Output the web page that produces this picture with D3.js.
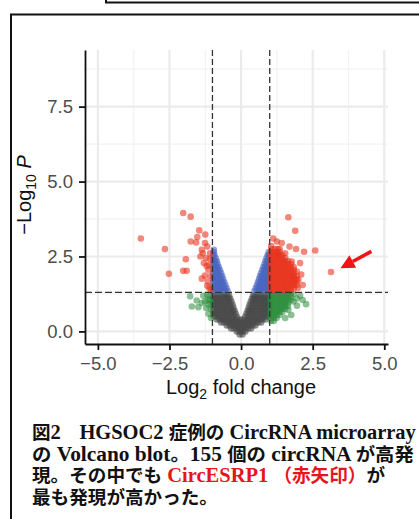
<!DOCTYPE html>
<html>
<head>
<meta charset="utf-8">
<script src="https://cdn.jsdelivr.net/npm/d3@7"></script>
<style>
  html, body { margin: 0; padding: 0; background: #fff; }
  svg { display: block; }
</style>
</head>
<body>
<svg id="chart" width="419" height="519"></svg>
<script>
// axis ticks
const xTicks = [-5, -2.5, 0, 2.5, 5];
const xTickLabels = ["\u22125.0", "\u22122.5", "0.0", "2.5", "5.0"];
const yTicks = [0, 2.5, 5, 7.5];
const yTickLabels = ["0.0", "2.5", "5.0", "7.5"];
const xMinor = [-3.75, -1.25, 1.25, 3.75];
const yMinor = [1.25, 3.75, 6.25, 8.75];

// cut-offs (log2FC = +-1, p = 0.05)
const fcCutoffs = [-1, 1];
const pCutoff = 1.3;

// not significant (grey), rows of points read off the cloud
const grayRows = [
  { y: -0.1, x: [-0.05, 0.05] },
  { y: 0.0, x: [-0.15, -0.05, 0.05, 0.15] },
  { y: 0.1, x: [-0.35, -0.25, -0.15, -0.05, 0.05, 0.15, 0.25, 0.35] },
  { y: 0.2, x: [-0.5, -0.4, -0.3, -0.2, -0.1, 0, 0.1, 0.2, 0.3, 0.4, 0.5] },
  { y: 0.3, x: [-0.7, -0.6, -0.5, -0.4, -0.3, -0.2, -0.1, 0, 0.1, 0.2, 0.3, 0.4, 0.5, 0.6, 0.7] },
  { y: 0.4, x: [-0.85, -0.75, -0.65, -0.55, -0.45, -0.35, -0.25, -0.15, -0.05, 0.05, 0.15, 0.25, 0.35, 0.45, 0.55, 0.65, 0.75, 0.85] },
  { y: 0.5, x: [-0.96, -0.86, -0.76, -0.66, -0.56, -0.46, -0.36, -0.26, -0.15, 0.15, 0.26, 0.36, 0.46, 0.56, 0.66, 0.76, 0.86, 0.96] },
  { y: 0.6, x: [-0.97, -0.88, -0.78, -0.68, -0.58, -0.48, -0.38, -0.28, -0.19, 0.19, 0.28, 0.38, 0.48, 0.58, 0.68, 0.78, 0.88, 0.97] },
  { y: 0.7, x: [-0.97, -0.87, -0.77, -0.67, -0.57, -0.47, -0.37, -0.3, -0.23, 0.23, 0.3, 0.37, 0.47, 0.57, 0.67, 0.77, 0.87, 0.97] },
  { y: 0.8, x: [-0.97, -0.87, -0.77, -0.67, -0.57, -0.47, -0.37, -0.27, 0.27, 0.37, 0.47, 0.57, 0.67, 0.77, 0.87, 0.97] },
  { y: 0.9, x: [-0.97, -0.88, -0.79, -0.7, -0.6, -0.5, -0.4, -0.3, 0.3, 0.4, 0.5, 0.6, 0.7, 0.79, 0.88, 0.97] },
  { y: 1.0, x: [-0.97, -0.88, -0.79, -0.7, -0.61, -0.52, -0.43, -0.34, 0.34, 0.43, 0.52, 0.61, 0.7, 0.79, 0.88, 0.97] },
  { y: 1.1, x: [-0.97, -0.88, -0.79, -0.7, -0.61, -0.52, -0.45, -0.38, 0.38, 0.45, 0.52, 0.61, 0.7, 0.79, 0.88, 0.97] },
  { y: 1.2, x: [-0.97, -0.88, -0.79, -0.7, -0.62, -0.55, -0.48, -0.42, 0.42, 0.48, 0.55, 0.62, 0.7, 0.79, 0.88, 0.97] }
];

// p-value only (blue)
const blueRows = [
  { y: 1.35, x: [-0.97, -0.89, -0.81, -0.73, -0.65, -0.56, -0.47, 0.47, 0.56, 0.65, 0.73, 0.81, 0.89, 0.97] },
  { y: 1.45, x: [-0.97, -0.89, -0.81, -0.73, -0.65, -0.58, -0.51, 0.51, 0.58, 0.65, 0.73, 0.81, 0.89, 0.97] },
  { y: 1.55, x: [-0.97, -0.89, -0.81, -0.73, -0.64, -0.55, 0.55, 0.64, 0.73, 0.81, 0.89, 0.97] },
  { y: 1.65, x: [-0.97, -0.89, -0.81, -0.73, -0.66, -0.59, 0.59, 0.66, 0.73, 0.81, 0.89, 0.97] },
  { y: 1.75, x: [-0.97, -0.89, -0.8, -0.71, -0.63, 0.63, 0.71, 0.8, 0.89, 0.97] },
  { y: 1.85, x: [-0.97, -0.89, -0.81, -0.73, -0.66, 0.66, 0.73, 0.81, 0.89, 0.97] },
  { y: 1.95, x: [-0.97, -0.88, -0.79, -0.7, 0.7, 0.79, 0.88, 0.97] },
  { y: 2.05, x: [-0.97, -0.89, -0.81, -0.74, 0.74, 0.81, 0.89, 0.97] },
  { y: 2.15, x: [-0.97, -0.9, -0.84, -0.78, 0.78, 0.84, 0.9, 0.97] },
  { y: 2.25, x: [-0.97, -0.9, -0.82, 0.82, 0.9, 0.97] },
  { y: 2.35, x: [-0.97, -0.91, -0.85, 0.85, 0.91, 0.97] },
  { y: 2.45, x: [-0.97, -0.89, 0.89, 0.97] },
  { y: 2.55, x: [-0.97, -0.93, 0.93, 0.97] },
  { y: 2.65, x: [-0.96, 0.97] },
  { y: 2.72, x: [-0.95] }
];

// log2FC only (green)
const greenRows = [
  { y: 0.35, x: [1.04, 1.14] },
  { y: 0.45, x: [1.04, 1.14, 1.24] },
  { y: 0.55, x: [1.04, 1.14, 1.24, 1.34] },
  { y: 0.65, x: [1.04, 1.14, 1.24, 1.34, 1.44] },
  { y: 0.75, x: [1.04, 1.14, 1.24, 1.34, 1.44, 1.54] },
  { y: 0.85, x: [1.04, 1.14, 1.24, 1.34, 1.44, 1.54, 1.64] },
  { y: 0.95, x: [1.04, 1.14, 1.24, 1.34, 1.44, 1.54, 1.64] },
  { y: 1.05, x: [1.04, 1.14, 1.24, 1.34, 1.44, 1.54, 1.64, 1.74] },
  { y: 1.15, x: [1.04, 1.14, 1.24, 1.34, 1.44, 1.54, 1.64, 1.74] },
  { y: 1.25, x: [1.04, 1.14, 1.24, 1.34, 1.44, 1.54, 1.64, 1.74, 1.84] }
];
const greenPoints = [
  [-1.78, 1.17], [-1.55, 1.03], [-1.72, 0.83], [-1.49, 0.81], [-1.37, 0.95], [-1.26, 1.0],
  [-1.18, 1.22], [-1.32, 1.19], [-1.14, 0.89], [-1.14, 0.59], [-1.08, 1.06], [-1.06, 0.75],
  [-1.1, 1.18], [-1.05, 0.45], [-1.22, 0.78], [-1.06, 0.95], [-1.16, 1.05],
  [2.06, 1.19], [2.27, 0.91], [1.95, 0.86], [1.54, 0.45], [1.83, 1.0], [1.65, 0.72],
  [2.15, 1.05], [1.75, 0.55], [1.95, 1.1]
];

// log2FC and p-value (red)
const redRows = [
  { y: 1.35, x: [1.04, 1.14, 1.24, 1.34, 1.44, 1.54, 1.64, 1.74] },
  { y: 1.45, x: [1.04, 1.14, 1.24, 1.34, 1.44, 1.54, 1.64, 1.74, 1.84] },
  { y: 1.55, x: [1.04, 1.14, 1.24, 1.34, 1.44, 1.54, 1.64, 1.74, 1.84, 1.94] },
  { y: 1.65, x: [1.04, 1.14, 1.24, 1.34, 1.44, 1.54, 1.64, 1.74, 1.84, 1.94] },
  { y: 1.75, x: [1.04, 1.14, 1.24, 1.34, 1.44, 1.54, 1.64, 1.74, 1.84, 1.94] },
  { y: 1.85, x: [1.04, 1.14, 1.24, 1.34, 1.44, 1.54, 1.64, 1.74, 1.84, 1.94] },
  { y: 1.95, x: [1.04, 1.14, 1.24, 1.34, 1.44, 1.54, 1.64, 1.74, 1.84] },
  { y: 2.05, x: [1.04, 1.14, 1.24, 1.34, 1.44, 1.54, 1.64, 1.74, 1.84] },
  { y: 2.15, x: [1.04, 1.14, 1.24, 1.34, 1.44, 1.54, 1.64, 1.74, 1.84] },
  { y: 2.25, x: [1.04, 1.14, 1.24, 1.34, 1.44, 1.54, 1.64, 1.74] },
  { y: 2.35, x: [1.04, 1.14, 1.24, 1.34, 1.44, 1.54, 1.64] },
  { y: 2.45, x: [1.04, 1.14, 1.24, 1.34, 1.44, 1.54] },
  { y: 2.55, x: [1.04, 1.14, 1.24, 1.34, 1.44] },
  { y: 2.65, x: [1.04, 1.14, 1.24, 1.34] },
  { y: 2.75, x: [1.06, 1.18, 1.28] }
];
const redPoints = [
  [-2.02, 3.95], [-1.76, 3.83], [-3.5, 3.1], [-2.66, 2.75], [-1.46, 3.37], [-1.53, 3.15],
  [-1.25, 3.23], [-1.76, 3.0], [-1.57, 2.97], [-1.26, 2.95], [-1.37, 2.72], [-1.18, 2.83],
  [-1.08, 2.61], [-1.93, 2.41], [-1.34, 2.61], [-2.02, 2.02], [-1.9, 2.02], [-2.52, 1.92],
  [-1.37, 1.76], [-1.26, 1.86], [-1.14, 2.06], [-1.08, 2.42], [-1.18, 1.52], [-1.11, 1.45],
  [-1.3, 2.28], [-1.22, 2.45], [-1.12, 2.22], [-1.06, 1.85], [-1.16, 1.66], [-1.05, 1.38],
  [-1.2, 2.18], [-1.42, 2.5],
  [1.65, 3.81], [1.89, 3.36], [2.59, 2.7], [2.2, 2.66], [3.14, 1.98], [1.25, 3.0],
  [1.42, 2.95], [1.69, 2.83], [1.92, 2.75], [1.54, 2.61], [1.3, 2.56], [2.06, 2.28],
  [1.77, 2.33], [1.94, 2.0], [1.82, 1.83], [2.0, 1.72], [1.12, 3.1], [1.05, 2.85],
  [1.35, 2.75], [2.15, 1.55], [1.98, 1.45], [2.1, 1.9]
];

// arrow pointing at CircESRP1 (data units)
const arrowTail = [4.55, 2.67];
const arrowTip = [3.47, 2.11];

// caption: lat = latin run (serif), red = highlighted
const captionLines = [
  [{ t: "図" }, { t: "2", lat: true }, { t: "\u3000" }, { t: "HGSOC2 ", lat: true }, { t: "症例の" }, { t: " CircRNA microarray", lat: true }],
  [{ t: "の" }, { t: " Volcano blot", lat: true }, { t: "。" }, { t: "155 ", lat: true }, { t: "個の" }, { t: " circRNA ", lat: true }, { t: "が高発" }],
  [{ t: "現。その中でも" }, { t: " CircESRP1 ", lat: true, red: true }, { t: "（赤矢印）", red: true }, { t: "が" }],
  [{ t: "最も発現が高かった。" }]
];
const captionWidths = [384, 382, null, null];

const svg = d3.select("#chart");
const W = 419, H = 519;
svg.append("rect").attr("width", W).attr("height", H).attr("fill", "#fff");

// frames around the figure
svg.append("path").attr("d", "M106,-2V2.5H421").attr("fill", "none").attr("stroke", "#111").attr("stroke-width", 2);
svg.append("path").attr("d", "M11,521V14.5H421").attr("fill", "none").attr("stroke", "#111").attr("stroke-width", 2);

const panel = { left: 85, right: 388, top: 50, bottom: 344 };
const x = d3.scaleLinear().domain([-5.45, 5.13]).range([panel.left, panel.right]);
const y = d3.scaleLinear().domain([-0.42, 9.39]).range([panel.bottom, panel.top]);

const g = svg.append("g");

// grid
g.selectAll(".vminor").data(xMinor).join("line")
  .attr("x1", d => x(d)).attr("x2", d => x(d)).attr("y1", panel.top).attr("y2", panel.bottom)
  .attr("stroke", "#f2f2f2").attr("stroke-width", 1.2);
g.selectAll(".hminor").data(yMinor).join("line")
  .attr("y1", d => y(d)).attr("y2", d => y(d)).attr("x1", panel.left).attr("x2", panel.right)
  .attr("stroke", "#f2f2f2").attr("stroke-width", 1.2);
g.selectAll(".vmajor").data(xTicks).join("line")
  .attr("x1", d => x(d)).attr("x2", d => x(d)).attr("y1", panel.top).attr("y2", panel.bottom)
  .attr("stroke", "#ebebeb").attr("stroke-width", 2.2);
g.selectAll(".hmajor").data(yTicks).join("line")
  .attr("y1", d => y(d)).attr("y2", d => y(d)).attr("x1", panel.left).attr("x2", panel.right)
  .attr("stroke", "#ebebeb").attr("stroke-width", 2.2);

// points
const flat = rows => rows.flatMap(r => r.x.map(v => [v, r.y]));
const groups = [
  { pts: flat(grayRows), col: "#474747", op: 0.6 },
  { pts: flat(greenRows).concat(greenPoints), col: "#2a8c3a", op: 0.55 },
  { pts: flat(blueRows), col: "#4a66c2", op: 0.6 },
  { pts: flat(redRows).concat(redPoints), col: "#e8321c", op: 0.58 }
];
groups.forEach(grp => {
  g.append("g").selectAll("circle").data(grp.pts).join("circle")
    .attr("cx", d => x(d[0])).attr("cy", d => y(d[1])).attr("r", 3.3)
    .attr("fill", grp.col).attr("fill-opacity", grp.op);
});

// cut-off lines
g.selectAll(".vcut").data(fcCutoffs).join("line")
  .attr("x1", d => x(d)).attr("x2", d => x(d)).attr("y1", panel.top).attr("y2", panel.bottom)
  .attr("stroke", "#333").attr("stroke-width", 1.3).attr("stroke-dasharray", "6,3");
g.append("line")
  .attr("x1", panel.left).attr("x2", panel.right).attr("y1", y(pCutoff)).attr("y2", y(pCutoff))
  .attr("stroke", "#333").attr("stroke-width", 1.3).attr("stroke-dasharray", "7,3");

// axes
const tickFont = "'Liberation Sans', Arial, sans-serif";
const xAxis = g.append("g").attr("transform", `translate(0,${panel.bottom})`)
  .call(d3.axisBottom(x).tickValues(xTicks).tickFormat((d, i) => xTickLabels[i]).tickSize(6).tickSizeOuter(0).tickPadding(7));
const yAxis = g.append("g").attr("transform", `translate(${panel.left},0)`)
  .call(d3.axisLeft(y).tickValues(yTicks).tickFormat((d, i) => yTickLabels[i]).tickSize(6).tickSizeOuter(0).tickPadding(6));
[xAxis, yAxis].forEach(a => {
  a.select(".domain").attr("stroke", "#111").attr("stroke-width", 1.8);
  a.selectAll(".tick line").attr("stroke", "#111").attr("stroke-width", 1.8);
  a.selectAll(".tick text").attr("fill", "#4d4d4d").style("font-family", tickFont).style("font-size", "18.5px");
});

// axis titles
const xt = svg.append("text").attr("x", 241).attr("y", 394).attr("text-anchor", "middle")
  .style("font-family", tickFont).style("font-size", "20px").attr("fill", "#111");
xt.append("tspan").text("Log");
xt.append("tspan").attr("dy", 5).style("font-size", "14px").text("2");
xt.append("tspan").attr("dy", -5).text(" fold change");

const yt = svg.append("text").attr("transform", "translate(31,195) rotate(-90)").attr("text-anchor", "middle")
  .style("font-family", tickFont).style("font-size", "20px").attr("fill", "#111");
yt.append("tspan").text("\u2212Log");
yt.append("tspan").attr("dy", 5).style("font-size", "14px").text("10");
yt.append("tspan").attr("dy", -5).text(" ");
yt.append("tspan").style("font-style", "italic").text("P");

// arrow
const ax0 = x(arrowTail[0]), ay0 = y(arrowTail[1]), ax1 = x(arrowTip[0]), ay1 = y(arrowTip[1]);
const len = Math.hypot(ax1 - ax0, ay1 - ay0), ux = (ax1 - ax0) / len, uy = (ay1 - ay0) / len;
const headL = 14, headW = 7;
const bx = ax1 - ux * headL, by = ay1 - uy * headL;
svg.append("line").attr("x1", ax0).attr("y1", ay0).attr("x2", bx).attr("y2", by)
  .attr("stroke", "#f01414").attr("stroke-width", 3.6);
svg.append("polygon")
  .attr("points", [[ax1, ay1], [bx - uy * headW, by + ux * headW], [bx + uy * headW, by - ux * headW]].map(p => p.join(",")).join(" "))
  .attr("fill", "#f01414");

// caption
const latFont = "'Liberation Serif', 'Times New Roman', serif";
const cjkFont = "'Noto Sans CJK JP', sans-serif";
const baselines = [439, 461, 482, 504];
captionLines.forEach((parts, i) => {
  const t = svg.append("text").attr("x", 0).attr("y", 0).style("font-weight", 700)
    .attr("xml:space", "preserve").style("white-space", "pre");
  parts.forEach(p => t.append("tspan")
    .attr("fill", p.red ? "#e8141c" : "#111")
    .style("font-family", p.lat ? latFont : cjkFont)
    .style("font-size", p.lat ? "20.5px" : "18.6px")
    .text(p.t));
  const natural = t.node().getComputedTextLength();
  const sx = captionWidths[i] ? captionWidths[i] / natural : 1;
  t.attr("transform", `translate(32,${baselines[i]}) scale(${sx},1)`);
});
</script>
</body>
</html>
